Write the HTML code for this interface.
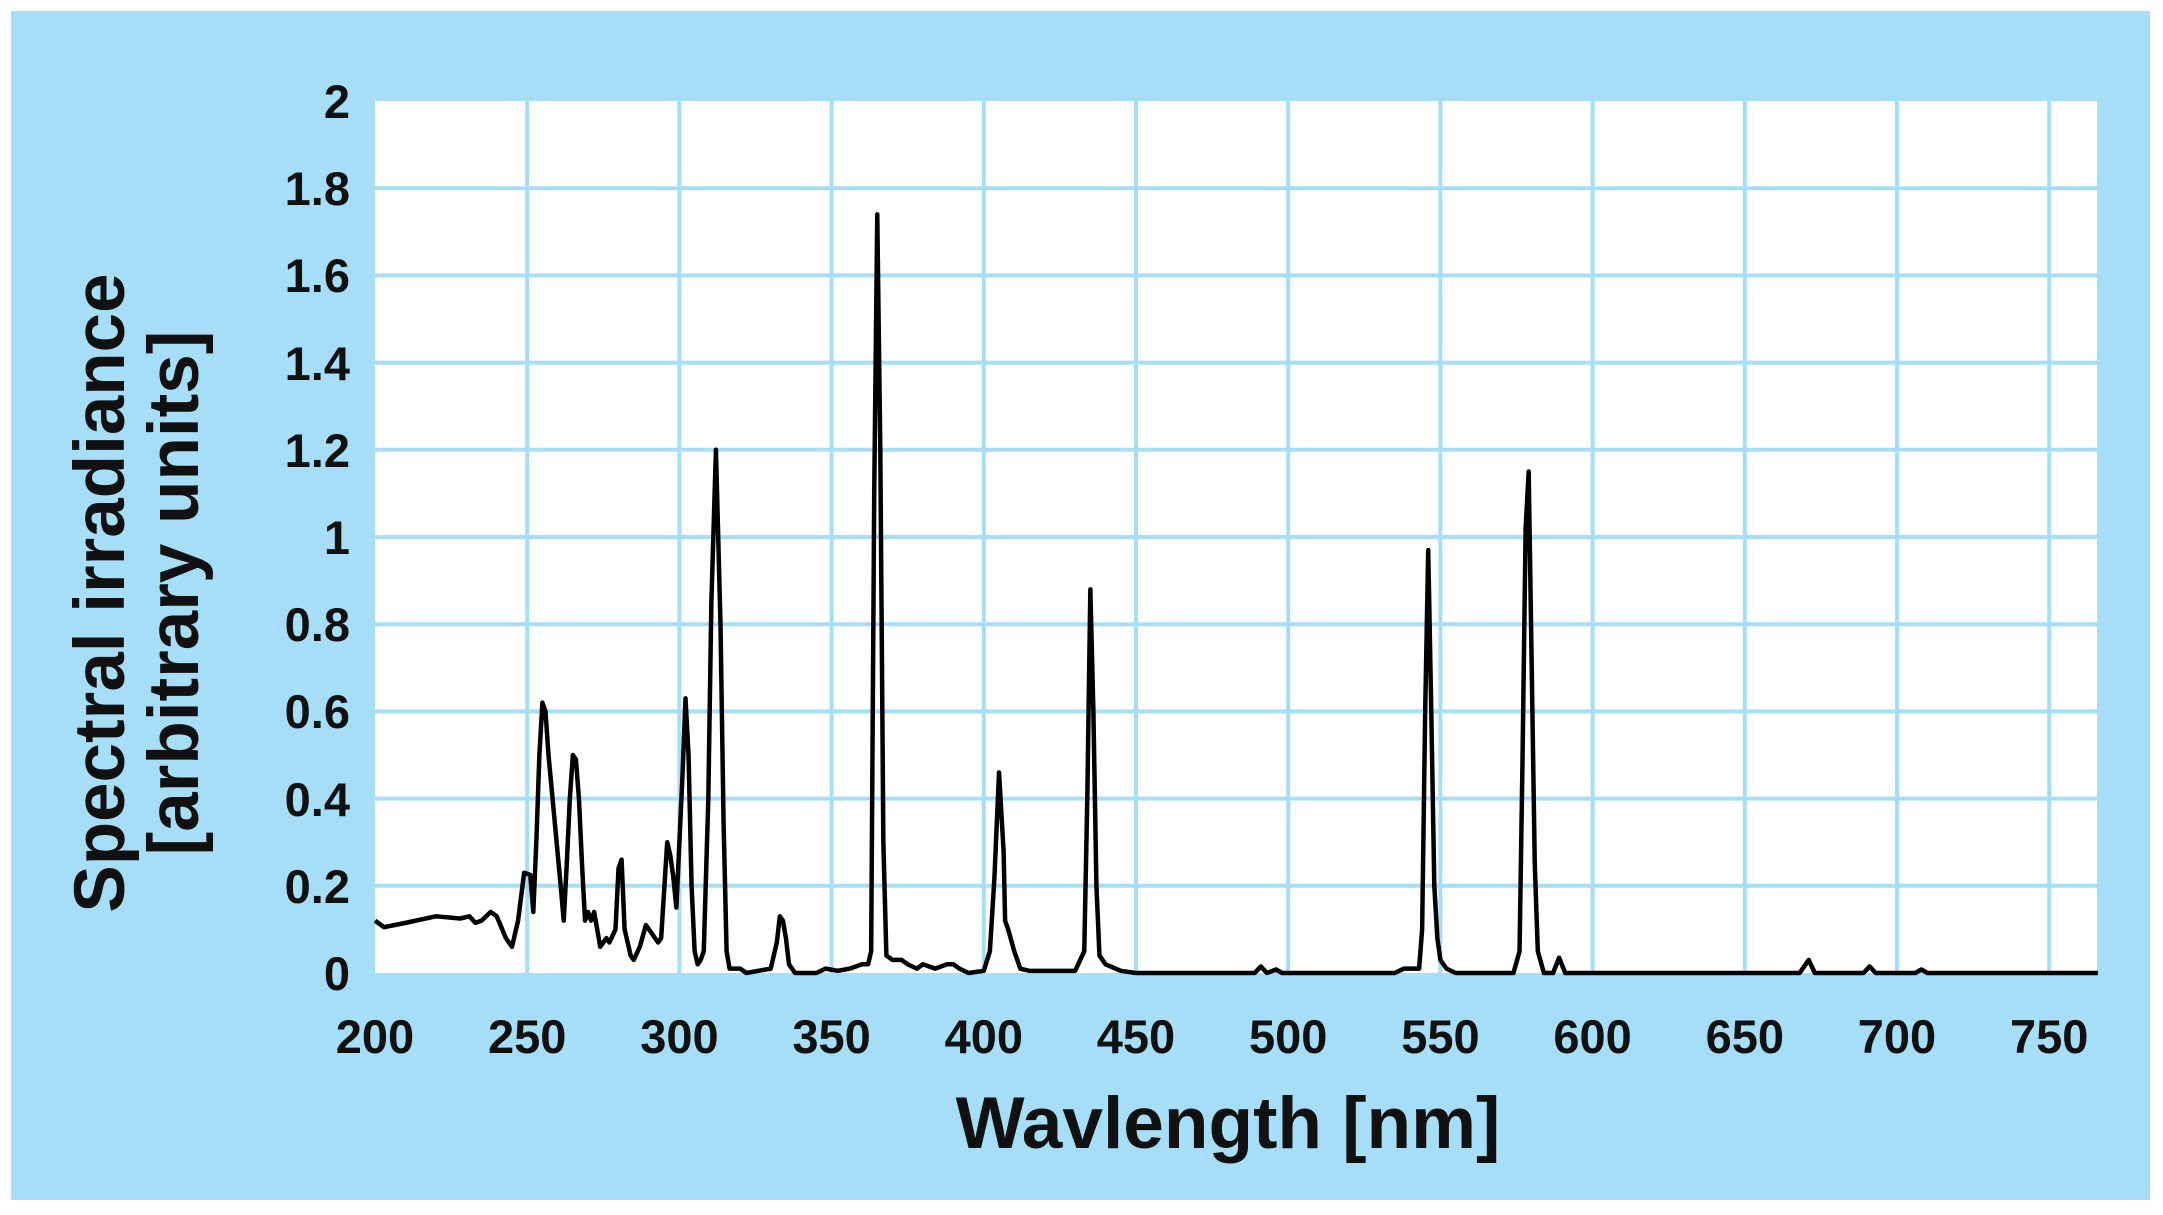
<!DOCTYPE html>
<html><head><meta charset="utf-8"><style>
html,body{margin:0;padding:0;background:#fff;}
svg{display:block;}
text{font-family:"Liberation Sans",Arial,sans-serif;font-weight:bold;fill:#111;}
</style></head><body>
<svg width="2163" height="1215" viewBox="0 0 2163 1215" xmlns="http://www.w3.org/2000/svg">
<rect x="11" y="11" width="2139" height="1189" fill="#a6ddf7"/>
<rect x="375" y="101" width="1722" height="872" fill="#ffffff"/>
<g stroke="#a6ddf7" stroke-width="4">
<line x1="527.2" y1="101" x2="527.2" y2="973"/>
<line x1="679.4" y1="101" x2="679.4" y2="973"/>
<line x1="831.6" y1="101" x2="831.6" y2="973"/>
<line x1="983.8" y1="101" x2="983.8" y2="973"/>
<line x1="1136" y1="101" x2="1136" y2="973"/>
<line x1="1288.2" y1="101" x2="1288.2" y2="973"/>
<line x1="1440.4" y1="101" x2="1440.4" y2="973"/>
<line x1="1592.6" y1="101" x2="1592.6" y2="973"/>
<line x1="1744.8" y1="101" x2="1744.8" y2="973"/>
<line x1="1897" y1="101" x2="1897" y2="973"/>
<line x1="2049.2" y1="101" x2="2049.2" y2="973"/>
<line x1="375" y1="188.2" x2="2097" y2="188.2"/>
<line x1="375" y1="275.4" x2="2097" y2="275.4"/>
<line x1="375" y1="362.6" x2="2097" y2="362.6"/>
<line x1="375" y1="449.8" x2="2097" y2="449.8"/>
<line x1="375" y1="537" x2="2097" y2="537"/>
<line x1="375" y1="624.2" x2="2097" y2="624.2"/>
<line x1="375" y1="711.4" x2="2097" y2="711.4"/>
<line x1="375" y1="798.6" x2="2097" y2="798.6"/>
<line x1="375" y1="885.8" x2="2097" y2="885.8"/>
</g>
<g transform="translate(375,973) scale(3.044,-436)">
<polyline fill="none" stroke="#000" stroke-width="4.5" vector-effect="non-scaling-stroke" stroke-linejoin="round" points="
0,0.12 3,0.105 10,0.115 20,0.13 28,0.125 31,0.13 33,0.115 35,0.12 38,0.14 40,0.13 43,0.08 45,0.06 47,0.12 49,0.23 51,0.225 52,0.14 53,0.3 54,0.5 55,0.62 56,0.6 57,0.5 59,0.35 61,0.2 62,0.12 63,0.25 64,0.4 65,0.5 66,0.49 67,0.4 68,0.25 69,0.12 70,0.14 71,0.12 72,0.14 73,0.1 74,0.06 76,0.08 77,0.07 79,0.1 80,0.24 81,0.26 82,0.1 84,0.04 85,0.03 87,0.06 89,0.11 91,0.09 93,0.07 94,0.08 96,0.3 97,0.27 98,0.22 99,0.15 101,0.45 102,0.63 103,0.5 104,0.2 105,0.05 106,0.02 107,0.03 108,0.05 109.5,0.4 110.5,0.85 112,1.2 113.5,0.8 114.5,0.35 115.5,0.05 116.5,0.01 120,0.01 122,0 130,0.01 132,0.07 133,0.13 134,0.12 135,0.08 136,0.02 138,0 145,0 148,0.01 152,0.005 156,0.01 160,0.02 162,0.02 163,0.05 164,1.1 165,1.74 166,1.2 167,0.3 168,0.04 170,0.03 173,0.03 175,0.02 178,0.01 180,0.02 184,0.01 188,0.02 190,0.02 192,0.01 195,0 200,0.005 202,0.05 203.5,0.22 205,0.46 206.5,0.28 207,0.12 208,0.1 210,0.05 212,0.01 215,0.005 230,0.005 233,0.05 234,0.4 235,0.88 236,0.6 237,0.2 238,0.04 240,0.02 245,0.005 250,0 289,0 291,0.015 293,0 296,0.008 298,0 335,0 338,0.01 343,0.01 344,0.1 345,0.6 346,0.97 347,0.6 348,0.2 349,0.08 350,0.03 352,0.01 355,0 374,0 376,0.05 377,0.5 378,1.02 379,1.15 380,0.7 381,0.25 382,0.05 384,0 387,0 389,0.035 391,0 468,0 471,0.03 473,0 489,0 491,0.015 493,0 506,0 508,0.008 510,0 566,0"/>
</g>
<g font-size="47" text-anchor="end">
<text x="350" y="118">2</text>
<text x="350" y="205">1.8</text>
<text x="350" y="292">1.6</text>
<text x="350" y="380">1.4</text>
<text x="350" y="467">1.2</text>
<text x="350" y="554">1</text>
<text x="350" y="641">0.8</text>
<text x="350" y="728">0.6</text>
<text x="350" y="816">0.4</text>
<text x="350" y="903">0.2</text>
<text x="350" y="990">0</text>
</g>
<g font-size="47" text-anchor="middle">
<text x="375" y="1053">200</text>
<text x="527.2" y="1053">250</text>
<text x="679.4" y="1053">300</text>
<text x="831.6" y="1053">350</text>
<text x="983.8" y="1053">400</text>
<text x="1136" y="1053">450</text>
<text x="1288.2" y="1053">500</text>
<text x="1440.4" y="1053">550</text>
<text x="1592.6" y="1053">600</text>
<text x="1744.8" y="1053">650</text>
<text x="1897" y="1053">700</text>
<text x="2049.2" y="1053">750</text>
</g>
<text x="1228" y="1148" font-size="73" text-anchor="middle">Wavlength [nm]</text>
<g font-size="71" text-anchor="middle">
<text transform="translate(124,593) rotate(-90)">Spectral irradiance</text>
<text transform="translate(198,593) rotate(-90)">[arbitrary units]</text>
</g>
</svg>
</body></html>
